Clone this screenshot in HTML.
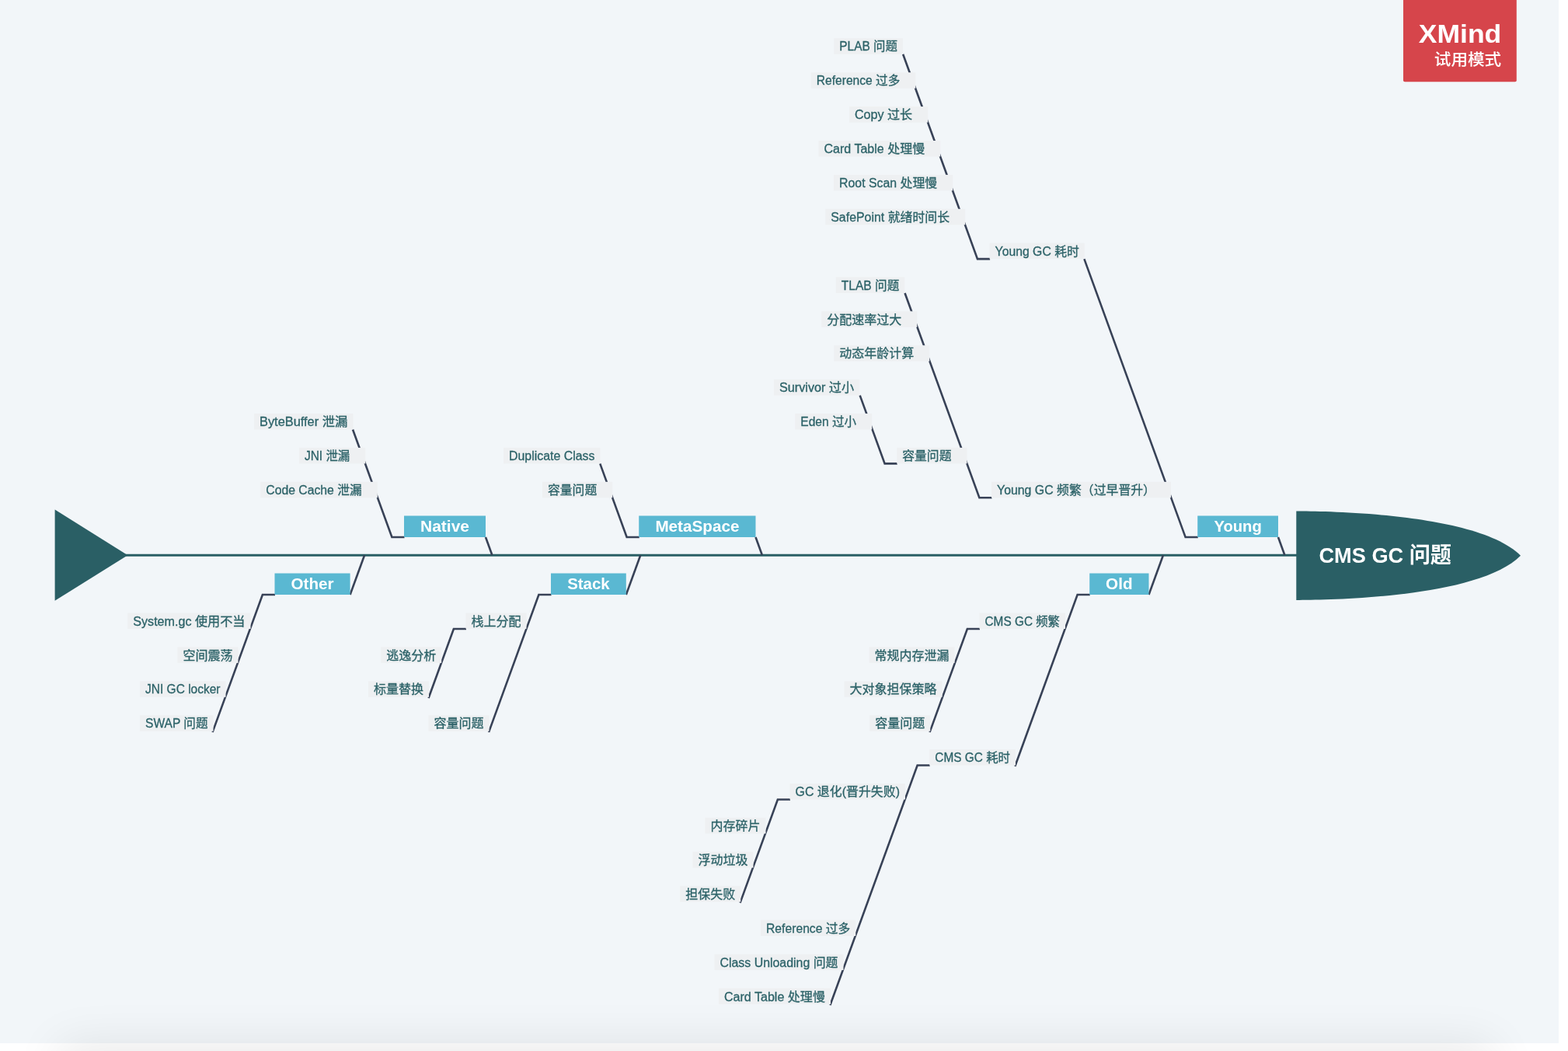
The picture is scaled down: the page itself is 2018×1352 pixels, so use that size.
<!DOCTYPE html>
<html lang="zh-CN"><head><meta charset="utf-8"><title>CMS GC 问题</title>
<style>
html,body{margin:0;padding:0;background:#fff;overflow:hidden}
body{width:2018px;height:1352px;position:relative}
svg{position:absolute;left:0;top:0;display:block}
text{font-family:"Liberation Sans","Noto Sans CJK SC",sans-serif;white-space:pre}
.s{font-size:16px;fill:#2c6268;stroke:#2c6268;stroke-width:0.3px}
.m{font-size:21px;font-weight:bold;fill:#fff}
.h{font-size:28.5px;font-weight:bold;fill:#fff}
.ln{fill:none;stroke:#384257;stroke-width:2.6;stroke-linejoin:miter}
</style></head><body>
<svg style="will-change:transform" width="2018" height="1352" viewBox="0 0 2018 1352">
<defs>
<filter id="blur" x="-10%" y="-100%" width="120%" height="300%"><feGaussianBlur stdDeviation="31"/></filter>
<clipPath id="cv"><rect x="0" y="0" width="2006" height="1342"/></clipPath>
</defs>
<rect x="0" y="0" width="2006" height="1342" fill="#f2f6f9"/>
<rect x="76" y="1343" width="1846" height="130" fill="#000" opacity="0.082" filter="url(#blur)"/>
<line x1="160" y1="714.2" x2="1670" y2="714.2" stroke="#2a5f65" stroke-width="3"/>
<path d="M70.6 655.6 L164.4 714.2 L70.6 772.8 Z" fill="#2a5f65"/>
<path d="M1668.3 657.5 C1713 657.5 1903.6 660.7 1957 714.75 C1903.6 768.8 1713 772 1668.3 772 Z" fill="#2a5f65"/>
<g class="ln">
<polyline points="625,691 633.44,714.2"/>
<polyline points="972.5,691 980.94,714.2"/>
<polyline points="1645,691 1653.44,714.2"/>
<polyline points="450.6,765 469.09,714.2"/>
<polyline points="805.8,765 824.29,714.2"/>
<polyline points="1478.5,765 1496.99,714.2"/>
<polyline points="520.5,691 504.4,691 454,552.53"/>
<polyline points="822.75,691 806.65,691 772.23,596.42"/>
<polyline points="1541.75,691 1525.65,691 1395.39,333.11"/>
<polyline points="1274.1,333.11 1258,333.11 1162.16,69.8"/>
<polyline points="1276.5,640.3 1260.4,640.3 1164.56,377"/>
<polyline points="1154.75,596.42 1138.65,596.42 1106.7,508.65"/>
<polyline points="354,765 337.9,765 273.53,941.85"/>
<polyline points="709.5,765 693.4,765 629.03,941.85"/>
<polyline points="1402.75,765 1386.65,765 1306.3,985.75"/>
<polyline points="600,808.95 583.9,808.95 551.51,897.95"/>
<polyline points="1261,808.95 1244.9,808.95 1196.53,941.85"/>
<polyline points="1196.75,984.55 1180.65,984.55 1068.37,1293.05"/>
<polyline points="1017,1028.45 1000.9,1028.45 952.53,1161.35"/>
</g>
<g fill="#eef0f2">
<rect x="1073.25" y="49.3" width="88.75" height="20.5"/>
<rect x="1043.75" y="93.19" width="134.55" height="20.5"/>
<rect x="1093" y="137.07" width="101.2" height="20.5"/>
<rect x="1053.5" y="180.95" width="156.7" height="20.5"/>
<rect x="1073" y="224.84" width="153.2" height="20.5"/>
<rect x="1062.25" y="268.72" width="179.95" height="20.5"/>
<rect x="1273.6" y="312.61" width="122.1" height="20.5"/>
<rect x="1075.75" y="356.5" width="88.5" height="20.5"/>
<rect x="1057.25" y="400.38" width="123" height="20.5"/>
<rect x="1073.25" y="444.26" width="123" height="20.5"/>
<rect x="996" y="488.15" width="110.25" height="20.5"/>
<rect x="1023.25" y="532.03" width="98.95" height="20.5"/>
<rect x="1154.25" y="575.92" width="90.25" height="20.5"/>
<rect x="1276" y="619.8" width="231" height="20.5"/>
<rect x="327" y="532.03" width="127.5" height="20.5"/>
<rect x="385" y="575.92" width="85.3" height="20.5"/>
<rect x="335.25" y="619.8" width="150.55" height="20.5"/>
<rect x="648" y="575.92" width="124.5" height="20.5"/>
<rect x="698" y="619.8" width="90.25" height="20.5"/>
<rect x="164.25" y="788.45" width="158.25" height="20.5"/>
<rect x="228.5" y="832.35" width="78" height="20.5"/>
<rect x="180" y="876.25" width="110.5" height="20.5"/>
<rect x="180" y="920.15" width="94.5" height="20.5"/>
<rect x="599.5" y="788.45" width="78" height="20.5"/>
<rect x="490.2" y="832.35" width="78" height="20.5"/>
<rect x="474" y="876.25" width="78" height="20.5"/>
<rect x="551.5" y="920.15" width="78" height="20.5"/>
<rect x="1260.5" y="788.45" width="110.5" height="20.5"/>
<rect x="1118.6" y="832.35" width="110" height="20.5"/>
<rect x="1086.6" y="876.25" width="126" height="20.5"/>
<rect x="1119.25" y="920.15" width="78" height="20.5"/>
<rect x="1196.25" y="964.05" width="110.75" height="20.5"/>
<rect x="1016.5" y="1007.95" width="148.5" height="20.5"/>
<rect x="907.5" y="1051.85" width="78" height="20.5"/>
<rect x="891.5" y="1095.75" width="78" height="20.5"/>
<rect x="875.2" y="1139.65" width="78" height="20.5"/>
<rect x="979" y="1183.55" width="122.25" height="20.5"/>
<rect x="919.5" y="1227.45" width="166" height="20.5"/>
<rect x="925" y="1271.35" width="144" height="20.5"/>
</g>
<g fill="#5ab8d2">
<rect x="520" y="663.5" width="105" height="27.5"/>
<rect x="822.25" y="663.5" width="150.25" height="27.5"/>
<rect x="1541.25" y="663.5" width="103.75" height="27.5"/>
<rect x="353.5" y="737.5" width="97.1" height="27.5"/>
<rect x="709" y="737.5" width="96.8" height="27.5"/>
<rect x="1402.25" y="737.5" width="76.25" height="27.5"/>
</g>
<g class="m">
<text x="541" y="684.2" textLength="63" lengthAdjust="spacingAndGlyphs">Native</text>
<text x="843.38" y="684.2" textLength="108" lengthAdjust="spacingAndGlyphs">MetaSpace</text>
<text x="1562.38" y="684.2" textLength="61.5" lengthAdjust="spacingAndGlyphs">Young</text>
<text x="374.55" y="758.2" textLength="55" lengthAdjust="spacingAndGlyphs">Other</text>
<text x="730.15" y="758.2" textLength="54.5" lengthAdjust="spacingAndGlyphs">Stack</text>
<text x="1423.12" y="758.2" textLength="34.5" lengthAdjust="spacingAndGlyphs">Old</text>
</g>
<g class="s">
<text x="1080.25" y="65.45" textLength="74.75" lengthAdjust="spacingAndGlyphs">PLAB 问题</text>
<text x="1050.75" y="109.34" textLength="107.55" lengthAdjust="spacingAndGlyphs">Reference 过多</text>
<text x="1100" y="153.22" textLength="74.2" lengthAdjust="spacingAndGlyphs">Copy 过长</text>
<text x="1060.5" y="197.1" textLength="129.7" lengthAdjust="spacingAndGlyphs">Card Table 处理慢</text>
<text x="1080" y="240.99" textLength="126.2" lengthAdjust="spacingAndGlyphs">Root Scan 处理慢</text>
<text x="1069.25" y="284.87" textLength="152.95" lengthAdjust="spacingAndGlyphs">SafePoint 就绪时间长</text>
<text x="1280.6" y="328.76" textLength="108.1" lengthAdjust="spacingAndGlyphs">Young GC 耗时</text>
<text x="1082.75" y="372.64" textLength="74.5" lengthAdjust="spacingAndGlyphs">TLAB 问题</text>
<text x="1064.25" y="416.53" textLength="96" lengthAdjust="spacingAndGlyphs">分配速率过大</text>
<text x="1080.25" y="460.41" textLength="96" lengthAdjust="spacingAndGlyphs">动态年龄计算</text>
<text x="1003" y="504.3" textLength="96.25" lengthAdjust="spacingAndGlyphs">Survivor 过小</text>
<text x="1030.25" y="548.18" textLength="71.95" lengthAdjust="spacingAndGlyphs">Eden 过小</text>
<text x="1161.25" y="592.07" textLength="63.25" lengthAdjust="spacingAndGlyphs">容量问题</text>
<text x="1283" y="635.95" textLength="204" lengthAdjust="spacingAndGlyphs">Young GC 频繁（过早晋升）</text>
<text x="334" y="548.18" textLength="113.5" lengthAdjust="spacingAndGlyphs">ByteBuffer 泄漏</text>
<text x="392" y="592.07" textLength="58.3" lengthAdjust="spacingAndGlyphs">JNI 泄漏</text>
<text x="342.25" y="635.95" textLength="123.55" lengthAdjust="spacingAndGlyphs">Code Cache 泄漏</text>
<text x="655" y="592.07" textLength="110.5" lengthAdjust="spacingAndGlyphs">Duplicate Class</text>
<text x="705" y="635.95" textLength="63.25" lengthAdjust="spacingAndGlyphs">容量问题</text>
<text x="171.25" y="804.6" textLength="144.25" lengthAdjust="spacingAndGlyphs">System.gc 使用不当</text>
<text x="235.5" y="848.5" textLength="64" lengthAdjust="spacingAndGlyphs">空间震荡</text>
<text x="187" y="892.4" textLength="96.5" lengthAdjust="spacingAndGlyphs">JNI GC locker</text>
<text x="187" y="936.3" textLength="80.5" lengthAdjust="spacingAndGlyphs">SWAP 问题</text>
<text x="606.5" y="804.6" textLength="64" lengthAdjust="spacingAndGlyphs">栈上分配</text>
<text x="497.2" y="848.5" textLength="64" lengthAdjust="spacingAndGlyphs">逃逸分析</text>
<text x="481" y="892.4" textLength="64" lengthAdjust="spacingAndGlyphs">标量替换</text>
<text x="558.5" y="936.3" textLength="64" lengthAdjust="spacingAndGlyphs">容量问题</text>
<text x="1267.5" y="804.6" textLength="96.5" lengthAdjust="spacingAndGlyphs">CMS GC 频繁</text>
<text x="1125.6" y="848.5" textLength="96" lengthAdjust="spacingAndGlyphs">常规内存泄漏</text>
<text x="1093.6" y="892.4" textLength="112" lengthAdjust="spacingAndGlyphs">大对象担保策略</text>
<text x="1126.25" y="936.3" textLength="64" lengthAdjust="spacingAndGlyphs">容量问题</text>
<text x="1203.25" y="980.2" textLength="96.75" lengthAdjust="spacingAndGlyphs">CMS GC 耗时</text>
<text x="1023.5" y="1024.1" textLength="134.5" lengthAdjust="spacingAndGlyphs">GC 退化(晋升失败)</text>
<text x="914.5" y="1068" textLength="64" lengthAdjust="spacingAndGlyphs">内存碎片</text>
<text x="898.5" y="1111.9" textLength="64" lengthAdjust="spacingAndGlyphs">浮动垃圾</text>
<text x="882.2" y="1155.8" textLength="64" lengthAdjust="spacingAndGlyphs">担保失败</text>
<text x="986" y="1199.7" textLength="108.25" lengthAdjust="spacingAndGlyphs">Reference 过多</text>
<text x="926.5" y="1243.6" textLength="152" lengthAdjust="spacingAndGlyphs">Class Unloading 问题</text>
<text x="932" y="1287.5" textLength="130" lengthAdjust="spacingAndGlyphs">Card Table 处理慢</text>
</g>
<text class="h" x="1697.5" y="724.4" textLength="170.5" lengthAdjust="spacingAndGlyphs">CMS GC 问题</text>
<path d="M1806 0 H1951.8 V103.3 Q1951.8 105.3 1949.8 105.3 H1808 Q1806 105.3 1806 103.3 Z" fill="#d6454b"/>
<text x="1825.8" y="55" textLength="106.5" lengthAdjust="spacingAndGlyphs" style="font-size:33px;font-weight:bold;fill:#fff">XMind</text>
<text x="1845.8" y="83.9" textLength="86.4" lengthAdjust="spacingAndGlyphs" style="font-size:20.6px;font-weight:500;fill:#fff">试用模式</text>
</svg>
</body></html>
